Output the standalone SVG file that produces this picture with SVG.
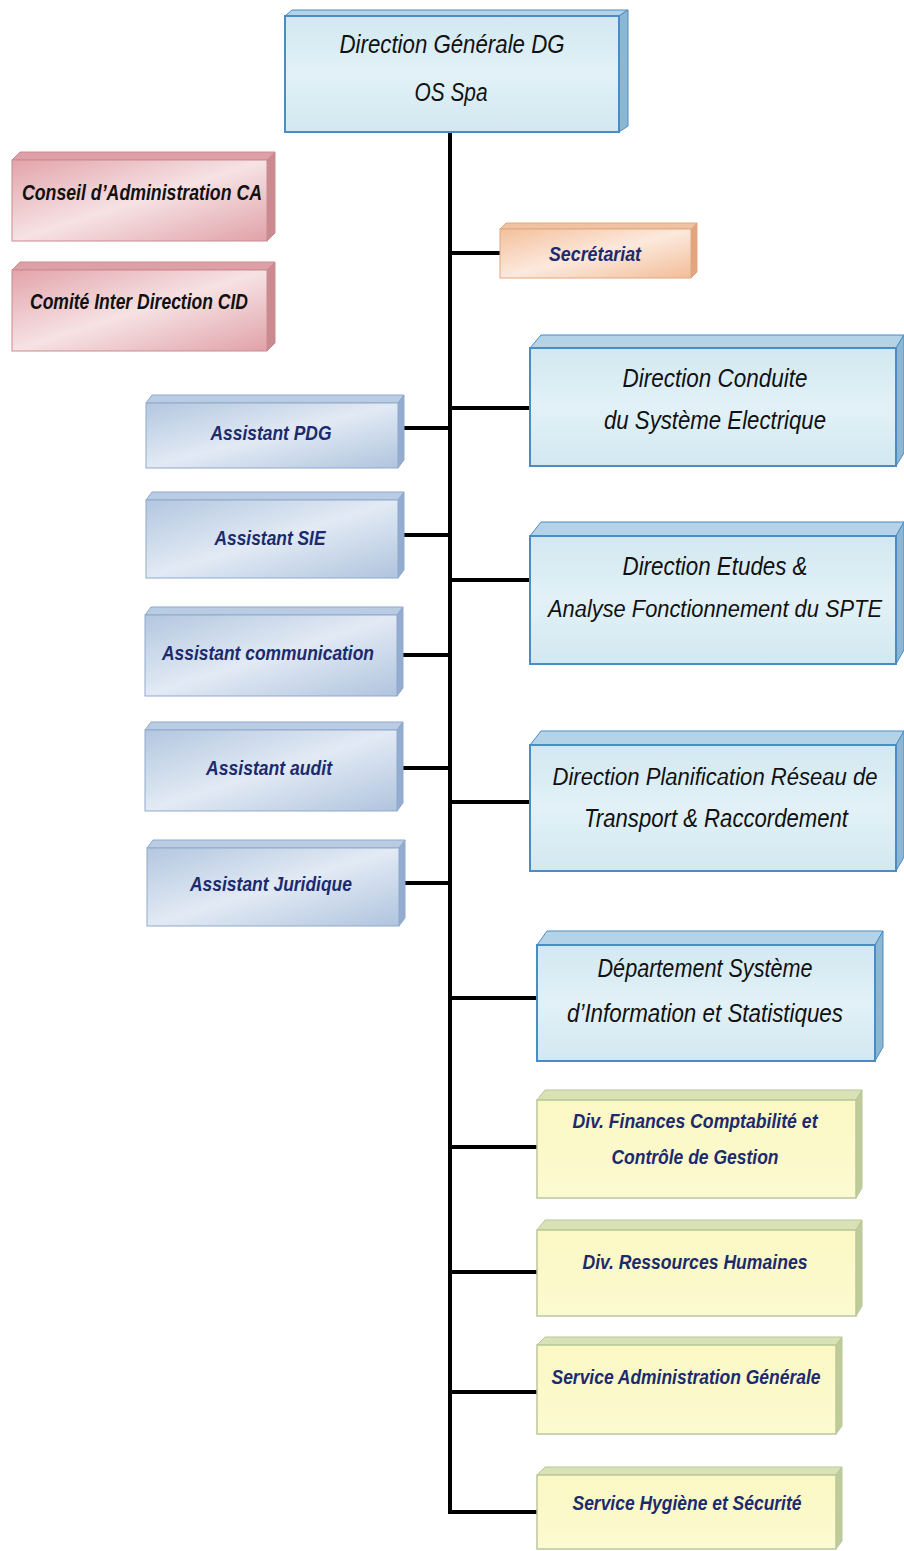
<svg xmlns="http://www.w3.org/2000/svg" width="904" height="1551" viewBox="0 0 904 1551">
<defs>
<linearGradient id="gBlueL" x1="0" y1="0" x2="0" y2="1">
<stop offset="0" stop-color="#d2e8f1"/><stop offset="0.5" stop-color="#e2f1f7"/><stop offset="1" stop-color="#d2e8f1"/>
</linearGradient>
<linearGradient id="gPink" x1="0" y1="0" x2="1" y2="1">
<stop offset="0" stop-color="#e2a4aa"/><stop offset="0.5" stop-color="#f6e2e4"/><stop offset="1" stop-color="#e0a2a8"/>
</linearGradient>
<linearGradient id="gPeach" x1="0" y1="0" x2="1" y2="1">
<stop offset="0" stop-color="#f4c09c"/><stop offset="0.5" stop-color="#fce9dd"/><stop offset="1" stop-color="#f2bd98"/>
</linearGradient>
<linearGradient id="gAsst" x1="0" y1="0" x2="1" y2="1">
<stop offset="0" stop-color="#b3c7e0"/><stop offset="0.5" stop-color="#e2eaf4"/><stop offset="1" stop-color="#b0c4de"/>
</linearGradient>
<linearGradient id="gYel" x1="0" y1="0" x2="0" y2="1">
<stop offset="0" stop-color="#fbf8c4"/><stop offset="1" stop-color="#fcfad0"/>
</linearGradient>
<style>
.conn{stroke:#000;stroke-width:4;fill:none;stroke-linecap:square}
.fb{fill:url(#gBlueL);stroke:#4a8cc4;stroke-width:2}
.tb{fill:#b5d3e6;stroke:#4a8cc4;stroke-width:1}
.sb{fill:#8db6d2;stroke:#4a8cc4;stroke-width:1}
.fp{fill:url(#gPink);stroke:#c98a90;stroke-width:1}
.tp{fill:#dca0a6;stroke:#c98a90;stroke-width:1}
.sp{fill:#c98a90;stroke:#c98a90;stroke-width:1}
.fo{fill:url(#gPeach);stroke:#e0a880;stroke-width:1}
.to{fill:#f0c2a2;stroke:#e0a880;stroke-width:1}
.so{fill:#e3a57e;stroke:#e0a880;stroke-width:1}
.fa{fill:url(#gAsst);stroke:#8fa9cc;stroke-width:1}
.ta{fill:#b9cce3;stroke:#8fa9cc;stroke-width:1}
.sa{fill:#93acd0;stroke:#8fa9cc;stroke-width:1}
.fy{fill:url(#gYel);stroke:#b9c79a;stroke-width:1.5}
.ty{fill:#d9e2b4;stroke:#b9c79a;stroke-width:1}
.sy{fill:#bfcb98;stroke:#b9c79a;stroke-width:1}
.t{font-family:"Liberation Sans Narrow","Liberation Sans",Arial,sans-serif;font-style:italic;text-anchor:middle}
.tk{fill:#111;font-size:25px}
.tks{fill:#111;font-size:23px}
.tn{fill:#1c2a6e;font-weight:bold;font-size:21px}
.tkb{fill:#111;font-weight:bold;font-size:22px}
</style>
</defs>

<g id="connectors">
<line class="conn" x1="450" y1="131" x2="450" y2="1512"/>
<line class="conn" x1="450" y1="253" x2="500" y2="253"/>
<line class="conn" x1="450" y1="408" x2="530" y2="408"/>
<line class="conn" x1="401" y1="428" x2="450" y2="428"/>
<line class="conn" x1="401" y1="535" x2="450" y2="535"/>
<line class="conn" x1="450" y1="580" x2="530" y2="580"/>
<line class="conn" x1="401" y1="655" x2="450" y2="655"/>
<line class="conn" x1="401" y1="768" x2="450" y2="768"/>
<line class="conn" x1="450" y1="802" x2="530" y2="802"/>
<line class="conn" x1="401" y1="883" x2="450" y2="883"/>
<line class="conn" x1="450" y1="998" x2="537" y2="998"/>
<line class="conn" x1="450" y1="1147" x2="537" y2="1147"/>
<line class="conn" x1="450" y1="1272" x2="537" y2="1272"/>
<line class="conn" x1="450" y1="1392" x2="537" y2="1392"/>
<line class="conn" x1="450" y1="1512" x2="537" y2="1512"/>
</g>

<g id="dg">
<polygon class="tb" points="285,16 292,10 628,10 619,16"/>
<polygon class="sb" points="619,16 628,10 628,126 619,132"/>
<rect class="fb" x="285" y="16" width="334" height="116"/>
<text class="t tk" x="452" y="53" textLength="225" lengthAdjust="spacingAndGlyphs">Direction Générale  DG</text>
<text class="t tk" x="451" y="101" textLength="73" lengthAdjust="spacingAndGlyphs">OS Spa</text>
</g>

<g id="ca">
<polygon class="tp" points="12,160 20,152 275,152 267,160"/>
<polygon class="sp" points="267,160 275,152 275,233 267,241"/>
<rect class="fp" x="12" y="160" width="255" height="81"/>
<text class="t tkb" x="142" y="200" textLength="240" lengthAdjust="spacingAndGlyphs">Conseil d’Administration CA</text>
</g>

<g id="cid">
<polygon class="tp" points="12,270 20,262 275,262 267,270"/>
<polygon class="sp" points="267,270 275,262 275,343 267,351"/>
<rect class="fp" x="12" y="270" width="255" height="81"/>
<text class="t tkb" x="139" y="309" textLength="218" lengthAdjust="spacingAndGlyphs">Comité Inter Direction CID</text>
</g>

<g id="secretariat">
<polygon class="to" points="500,229 506,223 697,223 691,229"/>
<polygon class="so" points="691,229 697,223 697,272 691,278"/>
<rect class="fo" x="500" y="229" width="191" height="49"/>
<text class="t tn" x="595" y="261" textLength="92" lengthAdjust="spacingAndGlyphs">Secrétariat</text>
</g>

<g id="conduite">
<polygon class="tb" points="530,348 541,335 904,335 896,348"/>
<polygon class="sb" points="896,348 904,335 904,453 896,466"/>
<rect class="fb" x="530" y="348" width="366" height="118"/>
<text class="t tk" x="715" y="387" textLength="185" lengthAdjust="spacingAndGlyphs">Direction Conduite</text>
<text class="t tk" x="715" y="429" textLength="222" lengthAdjust="spacingAndGlyphs">du Système Electrique</text>
</g>

<g id="asst-pdg">
<polygon class="ta" points="146,403 152,395 404,395 398,403"/>
<polygon class="sa" points="398,403 404,395 404,460 398,468"/>
<rect class="fa" x="146" y="403" width="252" height="65"/>
<text class="t tn" x="271" y="440" textLength="121" lengthAdjust="spacingAndGlyphs">Assistant PDG</text>
</g>

<g id="asst-sie">
<polygon class="ta" points="146,500 152,492 404,492 398,500"/>
<polygon class="sa" points="398,500 404,492 404,570 398,578"/>
<rect class="fa" x="146" y="500" width="252" height="78"/>
<text class="t tn" x="270" y="545" textLength="111" lengthAdjust="spacingAndGlyphs">Assistant SIE</text>
</g>

<g id="etudes">
<polygon class="tb" points="530,536 541,522 904,522 896,536"/>
<polygon class="sb" points="896,536 904,522 904,650 896,664"/>
<rect class="fb" x="530" y="536" width="366" height="128"/>
<text class="t tk" x="715" y="575" textLength="185" lengthAdjust="spacingAndGlyphs">Direction Etudes &amp;</text>
<text class="t tks" x="715" y="617" textLength="334" lengthAdjust="spacingAndGlyphs">Analyse Fonctionnement du SPTE</text>
</g>

<g id="asst-com">
<polygon class="ta" points="145,615 151,607 403,607 397,615"/>
<polygon class="sa" points="397,615 403,607 403,688 397,696"/>
<rect class="fa" x="145" y="615" width="252" height="81"/>
<text class="t tn" x="268" y="660" textLength="212" lengthAdjust="spacingAndGlyphs">Assistant communication</text>
</g>

<g id="asst-audit">
<polygon class="ta" points="145,730 151,722 403,722 397,730"/>
<polygon class="sa" points="397,730 403,722 403,803 397,811"/>
<rect class="fa" x="145" y="730" width="252" height="81"/>
<text class="t tn" x="269" y="775" textLength="126" lengthAdjust="spacingAndGlyphs">Assistant audit</text>
</g>

<g id="planification">
<polygon class="tb" points="530,745 541,731 904,731 896,745"/>
<polygon class="sb" points="896,745 904,731 904,857 896,871"/>
<rect class="fb" x="530" y="745" width="366" height="126"/>
<text class="t tks" x="715" y="785" textLength="325" lengthAdjust="spacingAndGlyphs">Direction Planification Réseau de</text>
<text class="t tk" x="716" y="827" textLength="264" lengthAdjust="spacingAndGlyphs">Transport &amp; Raccordement</text>
</g>

<g id="asst-juridique">
<polygon class="ta" points="147,848 153,840 405,840 399,848"/>
<polygon class="sa" points="399,848 405,840 405,918 399,926"/>
<rect class="fa" x="147" y="848" width="252" height="78"/>
<text class="t tn" x="271" y="891" textLength="162" lengthAdjust="spacingAndGlyphs">Assistant Juridique</text>
</g>

<g id="dsi">
<polygon class="tb" points="537,945 547,931 883,931 875,945"/>
<polygon class="sb" points="875,945 883,931 883,1047 875,1061"/>
<rect class="fb" x="537" y="945" width="338" height="116"/>
<text class="t tk" x="705" y="977" textLength="215" lengthAdjust="spacingAndGlyphs">Département Système</text>
<text class="t tk" x="705" y="1022" textLength="276" lengthAdjust="spacingAndGlyphs">d’Information et Statistiques</text>
</g>

<g id="finances">
<polygon class="ty" points="537,1100 545,1090 862,1090 856,1100"/>
<polygon class="sy" points="856,1100 862,1090 862,1188 856,1198"/>
<rect class="fy" x="537" y="1100" width="319" height="98"/>
<text class="t tn" x="695" y="1128" textLength="245" lengthAdjust="spacingAndGlyphs">Div. Finances Comptabilité et</text>
<text class="t tn" x="695" y="1164" textLength="167" lengthAdjust="spacingAndGlyphs">Contrôle de Gestion</text>
</g>

<g id="rh">
<polygon class="ty" points="537,1230 545,1220 862,1220 856,1230"/>
<polygon class="sy" points="856,1230 862,1220 862,1306 856,1316"/>
<rect class="fy" x="537" y="1230" width="319" height="86"/>
<text class="t tn" x="695" y="1269" textLength="225" lengthAdjust="spacingAndGlyphs">Div. Ressources Humaines</text>
</g>

<g id="sag">
<polygon class="ty" points="537,1345 545,1337 842,1337 836,1345"/>
<polygon class="sy" points="836,1345 842,1337 842,1426 836,1434"/>
<rect class="fy" x="537" y="1345" width="299" height="89"/>
<text class="t tn" x="686" y="1384" textLength="269" lengthAdjust="spacingAndGlyphs">Service Administration Générale</text>
</g>

<g id="shs">
<polygon class="ty" points="537,1475 545,1467 842,1467 836,1475"/>
<polygon class="sy" points="836,1475 842,1467 842,1541 836,1549"/>
<rect class="fy" x="537" y="1475" width="299" height="74"/>
<text class="t tn" x="687" y="1510" textLength="229" lengthAdjust="spacingAndGlyphs">Service Hygiène et Sécurité</text>
</g>
</svg>
